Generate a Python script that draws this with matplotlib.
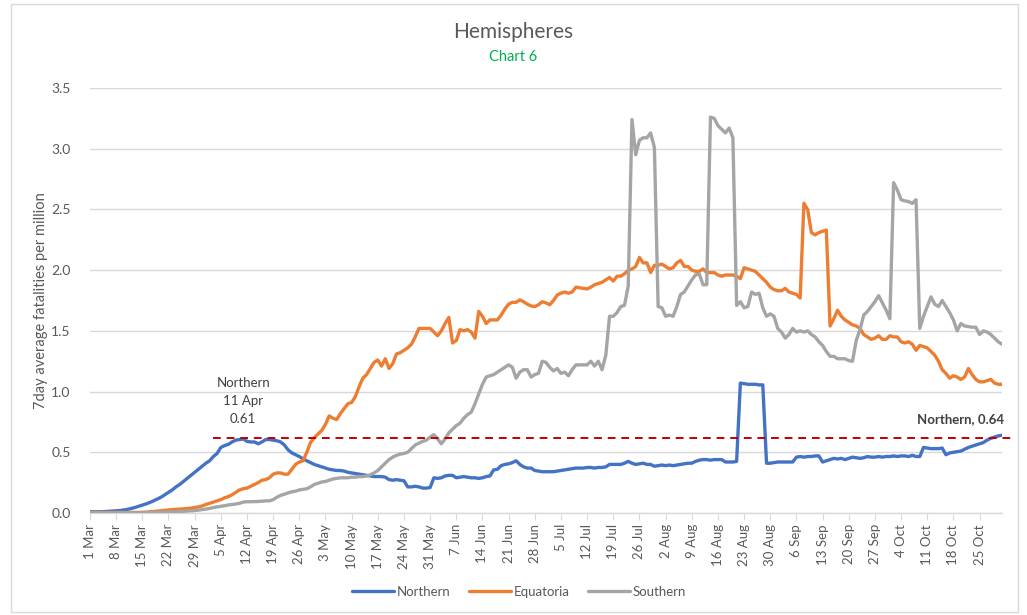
import numpy as np
import pandas as pd
import matplotlib
matplotlib.use("Agg")
import matplotlib.pyplot as plt
from matplotlib.patches import Rectangle

plt.rcParams['font.family'] = ['Lato', 'DejaVu Sans']

start_date = "2020-03-01"

northern = [
    # Mar
    0.01, 0.01, 0.01, 0.01, 0.012, 0.014, 0.016, 0.018, 0.02, 0.025, 0.03, 0.037, 0.045, 0.055, 0.065, 0.075,
    0.087, 0.10, 0.115, 0.13, 0.15, 0.17, 0.19, 0.215, 0.235, 0.26, 0.285, 0.31, 0.335, 0.36, 0.385,
    # Apr
    0.41, 0.43, 0.465, 0.49, 0.54, 0.555, 0.565, 0.585, 0.60, 0.605, 0.61, 0.59, 0.585, 0.585, 0.57, 0.585,
    0.605, 0.605, 0.60, 0.595, 0.585, 0.56, 0.52, 0.495, 0.48, 0.465, 0.445, 0.43, 0.415, 0.40,
    # May
    0.39, 0.38, 0.37, 0.36, 0.355, 0.35, 0.35, 0.345, 0.335, 0.33, 0.325, 0.32, 0.315, 0.31, 0.305, 0.30,
    0.30, 0.30, 0.295, 0.275, 0.27, 0.275, 0.27, 0.265, 0.215, 0.215, 0.22, 0.215, 0.205, 0.205, 0.21,
    # Jun
    0.29, 0.285, 0.29, 0.305, 0.31, 0.31, 0.29, 0.295, 0.30, 0.295, 0.29, 0.29, 0.285, 0.29, 0.30, 0.305,
    0.355, 0.36, 0.39, 0.40, 0.405, 0.415, 0.43, 0.40, 0.38, 0.37, 0.37, 0.35, 0.345, 0.34,
    # Jul
    0.34, 0.34, 0.34, 0.345, 0.35, 0.355, 0.36, 0.365, 0.37, 0.37, 0.37, 0.375, 0.375, 0.37, 0.375, 0.375,
    0.38, 0.40, 0.40, 0.40, 0.40, 0.41, 0.425, 0.41, 0.40, 0.405, 0.41, 0.40, 0.40, 0.385, 0.39,
    # Aug
    0.395, 0.39, 0.395, 0.39, 0.395, 0.40, 0.405, 0.41, 0.41, 0.425, 0.435, 0.44, 0.44, 0.435, 0.44, 0.44,
    0.44, 0.42, 0.42, 0.42, 0.425, 1.07, 1.065, 1.06, 1.06, 1.06, 1.055, 1.055, 0.41, 0.41, 0.415,
    # Sep
    0.42, 0.42, 0.42, 0.42, 0.42, 0.46, 0.465, 0.46, 0.465, 0.465, 0.47, 0.47, 0.42, 0.43, 0.44, 0.45,
    0.445, 0.45, 0.44, 0.45, 0.46, 0.455, 0.45, 0.455, 0.465, 0.46, 0.46, 0.465, 0.46, 0.465,
    # Oct
    0.465, 0.47, 0.465, 0.47, 0.47, 0.465, 0.475, 0.465, 0.465, 0.54, 0.535, 0.53, 0.53, 0.53, 0.535, 0.48,
    0.495, 0.50, 0.505, 0.51, 0.525, 0.54, 0.55, 0.56, 0.57, 0.58, 0.60, 0.615, 0.625, 0.635, 0.64,
]

equatoria = [
    # Mar
    0.005, 0.005, 0.005, 0.005, 0.005, 0.005, 0.005, 0.005, 0.005, 0.005, 0.005, 0.005, 0.005, 0.005, 0.005,
    0.007, 0.01, 0.012, 0.015, 0.018, 0.022, 0.025, 0.028, 0.03, 0.032, 0.034, 0.037, 0.04, 0.045, 0.05, 0.058,
    # Apr
    0.07, 0.08, 0.09, 0.10, 0.11, 0.125, 0.135, 0.15, 0.17, 0.19, 0.20, 0.205, 0.22, 0.235, 0.25, 0.27,
    0.275, 0.29, 0.32, 0.33, 0.33, 0.32, 0.32, 0.36, 0.40, 0.42, 0.43, 0.50, 0.58, 0.62,
    # May
    0.65, 0.68, 0.73, 0.80, 0.78, 0.77, 0.82, 0.86, 0.90, 0.91, 0.96, 1.04, 1.11, 1.14, 1.19, 1.24,
    1.26, 1.21, 1.27, 1.19, 1.23, 1.31, 1.32, 1.34, 1.36, 1.39, 1.45, 1.52, 1.52, 1.52, 1.52,
    # Jun
    1.49, 1.46, 1.50, 1.56, 1.61, 1.40, 1.42, 1.51, 1.50, 1.51, 1.49, 1.44, 1.66, 1.62, 1.56, 1.59,
    1.59, 1.59, 1.63, 1.68, 1.72, 1.735, 1.735, 1.755, 1.74, 1.72, 1.705, 1.70, 1.715, 1.74,
    # Jul
    1.73, 1.715, 1.75, 1.795, 1.81, 1.82, 1.81, 1.82, 1.86, 1.855, 1.85, 1.845, 1.86, 1.88, 1.89, 1.90,
    1.92, 1.94, 1.91, 1.95, 1.95, 1.97, 2.00, 2.01, 2.03, 2.105, 2.06, 2.06, 1.98, 2.04, 2.04,
    # Aug
    2.05, 2.03, 2.01, 2.02, 2.06, 2.08, 2.03, 2.03, 2.00, 1.99, 1.99, 2.01, 1.98, 1.98, 1.98, 1.96,
    1.95, 1.96, 1.96, 1.96, 1.95, 1.93, 2.02, 2.01, 2.00, 1.99, 1.96, 1.93, 1.90, 1.86, 1.84,
    # Sep
    1.83, 1.83, 1.85, 1.82, 1.81, 1.80, 1.77, 2.55, 2.50, 2.31, 2.29, 2.31, 2.32, 2.33, 1.54, 1.60,
    1.67, 1.62, 1.59, 1.57, 1.55, 1.54, 1.52, 1.47, 1.45, 1.43, 1.44, 1.46, 1.43, 1.43,
    # Oct
    1.46, 1.45, 1.45, 1.41, 1.40, 1.41, 1.39, 1.34, 1.38, 1.37, 1.36, 1.33, 1.30, 1.25, 1.18, 1.15,
    1.11, 1.13, 1.12, 1.10, 1.12, 1.19, 1.14, 1.10, 1.08, 1.08, 1.09, 1.10, 1.07, 1.06, 1.06,
]

southern = [
    # Mar
    0.002, 0.002, 0.002, 0.002, 0.002, 0.002, 0.002, 0.002, 0.002, 0.002, 0.002, 0.002, 0.002, 0.002, 0.002,
    0.003, 0.004, 0.005, 0.005, 0.006, 0.007, 0.008, 0.009, 0.01, 0.012, 0.014, 0.016, 0.018, 0.02, 0.024, 0.028,
    # Apr
    0.032, 0.038, 0.045, 0.05, 0.055, 0.06, 0.066, 0.07, 0.074, 0.08, 0.09, 0.093, 0.093, 0.094, 0.095, 0.097,
    0.10, 0.10, 0.11, 0.13, 0.145, 0.155, 0.165, 0.175, 0.18, 0.19, 0.195, 0.20, 0.215, 0.235,
    # May
    0.245, 0.255, 0.26, 0.27, 0.28, 0.285, 0.29, 0.29, 0.29, 0.295, 0.295, 0.30, 0.30, 0.305, 0.315, 0.33,
    0.35, 0.38, 0.41, 0.44, 0.46, 0.475, 0.485, 0.49, 0.50, 0.53, 0.56, 0.575, 0.59, 0.60, 0.625,
    # Jun
    0.645, 0.61, 0.57, 0.61, 0.66, 0.69, 0.72, 0.74, 0.78, 0.81, 0.83, 0.90, 0.98, 1.06, 1.12, 1.13,
    1.14, 1.16, 1.18, 1.20, 1.22, 1.20, 1.11, 1.16, 1.18, 1.18, 1.12, 1.14, 1.15, 1.25,
    # Jul
    1.24, 1.20, 1.17, 1.19, 1.15, 1.16, 1.13, 1.18, 1.22, 1.22, 1.22, 1.22, 1.25, 1.21, 1.25, 1.18,
    1.30, 1.62, 1.62, 1.65, 1.70, 1.71, 1.87, 3.24, 2.95, 3.07, 3.09, 3.09, 3.13, 3.01, 1.70,
    # Aug
    1.69, 1.62, 1.63, 1.62, 1.70, 1.80, 1.82, 1.87, 1.92, 1.96, 1.97, 1.88, 1.88, 3.26, 3.25, 3.19,
    3.16, 3.13, 3.17, 3.09, 1.71, 1.74, 1.69, 1.70, 1.82, 1.80, 1.81, 1.69, 1.62, 1.64, 1.62,
    # Sep
    1.52, 1.49, 1.44, 1.47, 1.52, 1.49, 1.50, 1.49, 1.50, 1.47, 1.45, 1.41, 1.38, 1.33, 1.29, 1.29,
    1.27, 1.27, 1.27, 1.255, 1.25, 1.42, 1.51, 1.63, 1.66, 1.70, 1.74, 1.79, 1.73, 1.67,
    # Oct
    1.60, 2.72, 2.66, 2.58, 2.57, 2.565, 2.55, 2.58, 1.52, 1.62, 1.70, 1.78, 1.72, 1.70, 1.75, 1.70,
    1.65, 1.59, 1.50, 1.56, 1.54, 1.535, 1.53, 1.53, 1.47, 1.50, 1.49, 1.47, 1.44, 1.41, 1.39,
]

series_names = ["Northern", "Equatoria", "Southern"]
series_colors = ["#4472C4", "#ED7D31", "#A5A5A5"]

tick_labels = ["1 Mar", "8 Mar", "15 Mar", "22 Mar", "29 Mar", "5 Apr", "12 Apr", "19 Apr", "26 Apr",
               "3 May", "10 May", "17 May", "24 May", "31 May", "7 Jun", "14 Jun", "21 Jun", "28 Jun",
               "5 Jul", "12 Jul", "19 Jul", "26 Jul", "2 Aug", "9 Aug", "16 Aug", "23 Aug", "30 Aug",
               "6 Sep", "13 Sep", "20 Sep", "27 Sep", "4 Oct", "11 Oct", "18 Oct", "25 Oct"]

peak_label = "Northern\n11 Apr\n0.61"
peak_value = 0.615
last_label = "Northern, 0.64"

W, H = 1027, 615
fig = plt.figure(figsize=(W / 100, H / 100), dpi=100)
fig.patch.set_facecolor("white")

# chart border
fig.add_artist(Rectangle((11 / W, 3 / H), (1018 - 11) / W, (611 - 3) / H, transform=fig.transFigure,
                         fill=False, edgecolor="#D9D9D9", linewidth=1.0))

ax = fig.add_axes([90 / W, 1 - 513 / H, (1002 - 90) / W, (513 - 88) / H])

n = len(northern)
dates = pd.date_range(start_date, periods=n, freq="D")
for vals, name, col in zip([northern, equatoria, southern], series_names, series_colors):
    ax.plot(dates[:len(vals)], vals, color=col, linewidth=2.4, label=name, solid_joinstyle="round",
            solid_capstyle="round", zorder=3)

ax.set_xlim(dates[0], dates[-1])
ax.set_ylim(0, 3.5)
ax.set_yticks(np.arange(0, 3.51, 0.5))
ax.set_yticklabels([f"{v:.1f}" for v in np.arange(0, 3.51, 0.5)])
tick_dates = pd.date_range(start_date, periods=len(tick_labels), freq="7D")
ax.set_xticks(tick_dates)
ax.set_xticklabels(tick_labels, rotation=90)

ax.grid(axis="y", color="#D9D9D9", linewidth=1.0, zorder=0)
for s in ["top", "right", "left"]:
    ax.spines[s].set_visible(False)
ax.spines["bottom"].set_color("#D9D9D9")
ax.spines["bottom"].set_linewidth(1.0)
ax.tick_params(axis="y", length=0, labelsize=10, labelcolor="#595959", pad=14)
ax.tick_params(axis="x", length=5, color="#D9D9D9", labelsize=9.5, labelcolor="#595959", pad=3)

ax.set_ylabel("7day average fatalities per million", fontsize=10.5, color="#595959", labelpad=2)

# red dashed reference line
ax.plot([dates[33], dates[-1] + pd.Timedelta(days=3.5)], [peak_value, peak_value], color="#C00000",
        linestyle=(0, (4, 3)), linewidth=1.4, clip_on=False, zorder=4)

ax.text(dates[41], 1.12, peak_label, ha="center", va="top", fontsize=9.5, color="#404040",
        linespacing=1.6)
ax.text(dates[-1] + pd.Timedelta(days=0.5), 0.72, last_label, ha="right", va="bottom", fontsize=9.5,
        fontweight="bold", color="#404040")

fig.text(0.5, 1 - 32 / H, "Hemispheres", ha="center", va="center", fontsize=15, color="#595959")
fig.text(0.5, 1 - 57 / H, "Chart 6", ha="center", va="center", fontsize=10.5, color="#00B050")

fig.legend(loc="center", bbox_to_anchor=(519 / W, 1 - 592 / H), ncol=3, frameon=False, fontsize=9.5,
           handlelength=3.2, columnspacing=1.4, handletextpad=0.2, labelcolor="#595959")

fig.savefig("out.png", dpi=100)
